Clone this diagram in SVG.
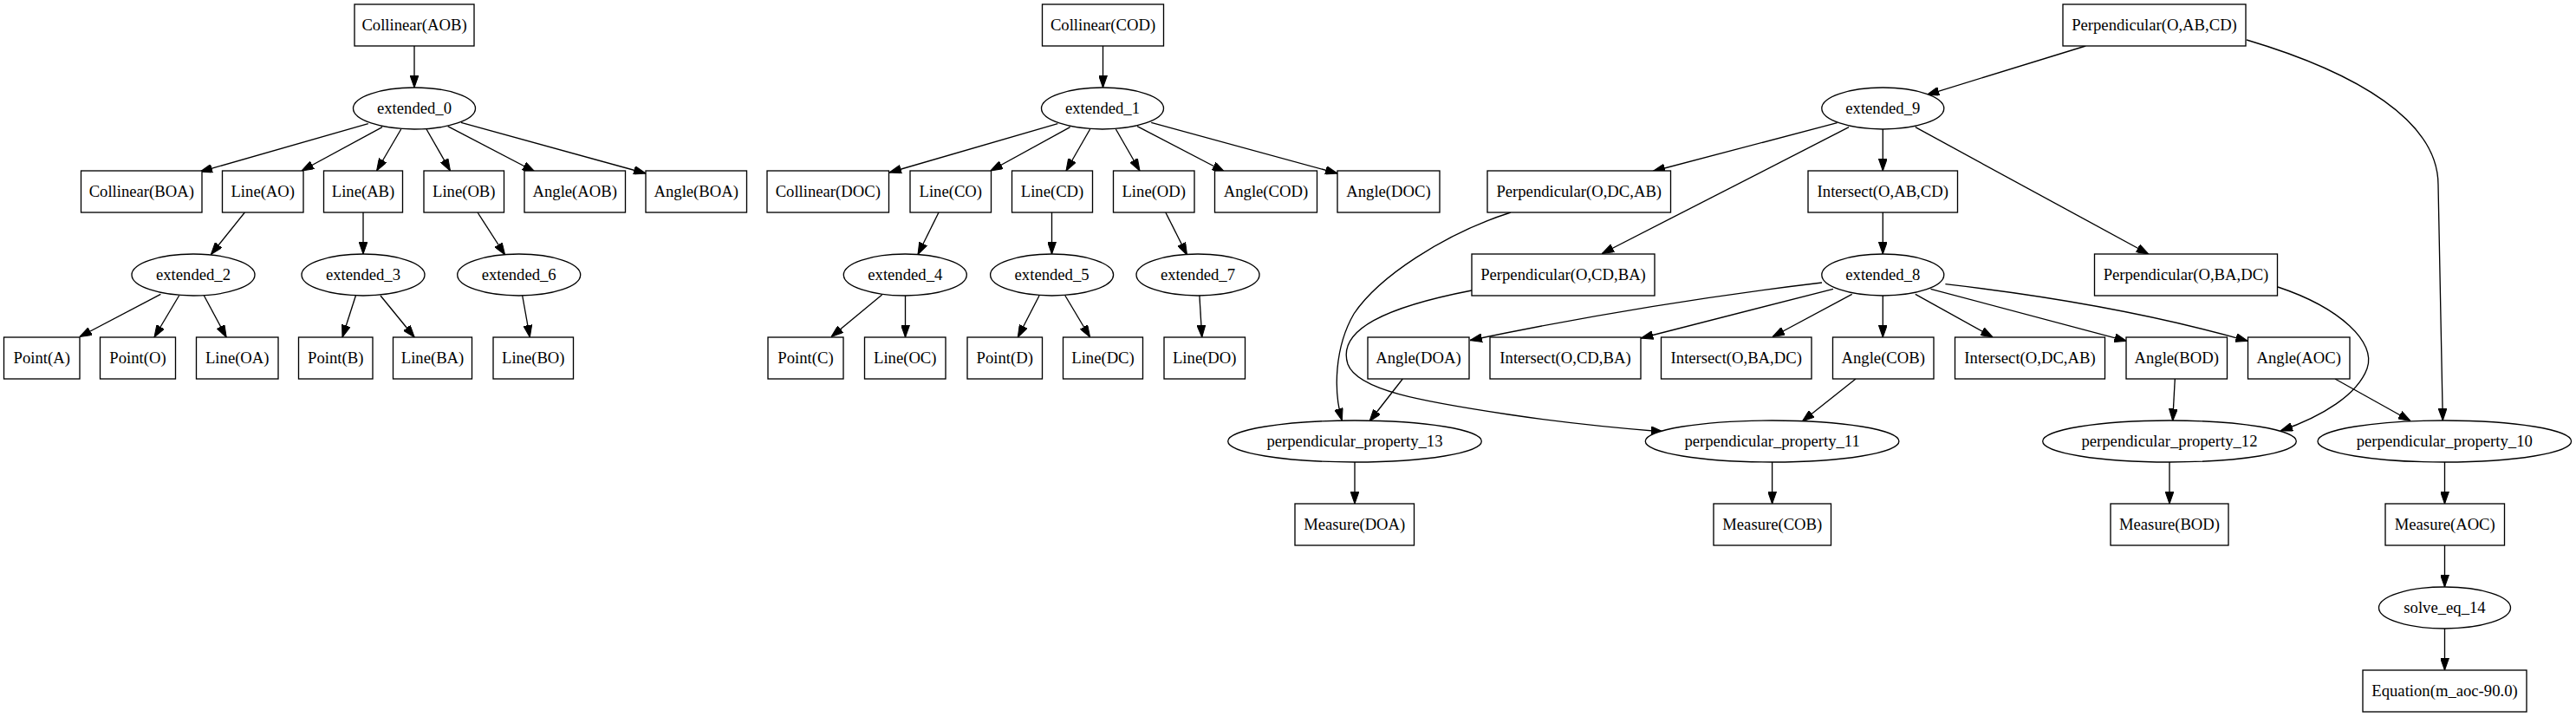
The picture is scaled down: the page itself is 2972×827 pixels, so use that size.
<svg xmlns="http://www.w3.org/2000/svg" width="2972" height="827" viewBox="0 0 2972 827">
<style>
.n rect,.n ellipse{fill:#fff;stroke:#000;stroke-width:1.33}
.n text{font-family:"Liberation Serif","Times New Roman",serif;font-size:18.67px;text-anchor:middle;fill:#000}
#edges path{fill:none;stroke:#000;stroke-width:1.33;marker-end:url(#arr)}
</style>
<defs>
<marker id="arr" markerUnits="userSpaceOnUse" markerWidth="14" markerHeight="10" viewBox="0 0 13.3 9.34" refX="13.3" refY="4.67" orient="auto">
<path d="M0,0 L13.3,4.67 L0,9.34 z" fill="#000" stroke="#000" stroke-width="1"/>
</marker>
</defs>
<rect width="2972" height="827" fill="#fff"/>
<g id="edges">
<path d="M478,53 L478,101"/>
<path d="M424.8,142.7 L231,198"/>
<path d="M441,146.7 L348,197"/>
<path d="M462.7,149 L434.6,197"/>
<path d="M492,149 L519.5,197"/>
<path d="M516.6,145.7 L617,198"/>
<path d="M532,141.3 L745,200"/>
<path d="M282.4,245 L243.4,293.5"/>
<path d="M419,245 L419,293"/>
<path d="M551,245 L582.6,294"/>
<path d="M185.4,339.3 L91.8,388.5"/>
<path d="M206.6,341 L178,389"/>
<path d="M235.4,341 L261.2,389"/>
<path d="M410.4,341 L395,389"/>
<path d="M439,341 L478.2,389"/>
<path d="M602.7,341 L611.3,389"/>
<path d="M1272.5,53 L1272.5,101"/>
<path d="M1220.3,142.7 L1026,199"/>
<path d="M1234.6,146.7 L1142.8,197"/>
<path d="M1257.6,149 L1230,197"/>
<path d="M1287.4,149 L1315,197"/>
<path d="M1312,145.7 L1412.6,198"/>
<path d="M1328.2,141.3 L1543,200"/>
<path d="M1083,245 L1059,293.5"/>
<path d="M1213.5,245 L1213.5,293"/>
<path d="M1344.8,245 L1369.5,294"/>
<path d="M1017.6,340 L959,388.5"/>
<path d="M1044.5,341 L1044.5,389"/>
<path d="M1199,341 L1174.3,389"/>
<path d="M1228.9,341 L1257.6,389"/>
<path d="M1383.9,341 L1386.7,389"/>
<path d="M2406.3,53 L2223.3,109.3"/>
<path d="M2119.6,141.7 L1907.1,197.5"/>
<path d="M2133.1,146.7 L1848.3,292.5"/>
<path d="M2172.3,149 L2172.3,197"/>
<path d="M2209.8,146.7 L2478.8,293"/>
<path d="M2172.3,245 L2172.3,293"/>
<path d="M2102,326 Q1900,350 1696,392.5"/>
<path d="M2115,333.3 L1893.3,390"/>
<path d="M2136.7,339.3 L2045,388.5"/>
<path d="M2172.3,341 L2172.3,389"/>
<path d="M2209.8,339.3 L2299.2,389"/>
<path d="M2227.5,333.3 L2453.5,393.3"/>
<path d="M2244.4,327.7 Q2440,350 2593.3,393.3"/>
<path d="M1618.3,437 L1580,486"/>
<path d="M2141,437 L2079.3,486"/>
<path d="M2509.3,437 L2506.7,485.5"/>
<path d="M2694,437 L2781,485.5"/>
<path d="M2592,46 C2720,84 2813,140 2813,213 L2818.3,485"/>
<path d="M1743,245 C1665,270 1590,320 1562,362 C1540,400 1538,450 1548.3,485"/>
<path d="M1698,335 C1600,354 1542,380 1555,420 C1566,450 1640,463 1740,478 C1800,487 1870,494 1919,498"/>
<path d="M2628,331 C2700,355 2742,395 2731,425 C2720,455 2680,480 2631,497"/>
<path d="M1563,533 L1563,581"/>
<path d="M2044.6,533 L2044.6,581"/>
<path d="M2503,533 L2503,581"/>
<path d="M2820.5,533 L2820.5,581"/>
<path d="M2820.5,629 L2820.5,677"/>
<path d="M2820.5,725 L2820.5,773"/>
</g>
<g id="Collinear_AOB" class="n"><rect x="409" y="5" width="138" height="48"/><text x="478" y="35">Collinear(AOB)</text></g>
<g id="Collinear_COD" class="n"><rect x="1202.5" y="5" width="140" height="48"/><text x="1272.5" y="35">Collinear(COD)</text></g>
<g id="Perpendicular_O_AB_CD" class="n"><rect x="2380" y="5" width="211" height="48"/><text x="2485.5" y="35">Perpendicular(O,AB,CD)</text></g>
<g id="extended_0" class="n"><ellipse cx="478" cy="125" rx="70.5" ry="24"/><text x="478" y="131">extended_0</text></g>
<g id="extended_1" class="n"><ellipse cx="1272" cy="125" rx="70.5" ry="24"/><text x="1272" y="131">extended_1</text></g>
<g id="extended_9" class="n"><ellipse cx="2172.3" cy="125" rx="70.5" ry="24"/><text x="2172.3" y="131">extended_9</text></g>
<g id="Collinear_BOA" class="n"><rect x="93.5" y="197" width="139.5" height="48"/><text x="163.25" y="227">Collinear(BOA)</text></g>
<g id="Line_AO" class="n"><rect x="256.5" y="197" width="93.5" height="48"/><text x="303.25" y="227">Line(AO)</text></g>
<g id="Line_AB" class="n"><rect x="373.5" y="197" width="91" height="48"/><text x="419" y="227">Line(AB)</text></g>
<g id="Line_OB" class="n"><rect x="489" y="197" width="92.5" height="48"/><text x="535.25" y="227">Line(OB)</text></g>
<g id="Angle_AOB" class="n"><rect x="605" y="197" width="116.5" height="48"/><text x="663.25" y="227">Angle(AOB)</text></g>
<g id="Angle_BOA" class="n"><rect x="745" y="197" width="116.5" height="48"/><text x="803.25" y="227">Angle(BOA)</text></g>
<g id="Collinear_DOC" class="n"><rect x="885" y="197" width="140.5" height="48"/><text x="955.25" y="227">Collinear(DOC)</text></g>
<g id="Line_CO" class="n"><rect x="1050" y="197" width="93.5" height="48"/><text x="1096.75" y="227">Line(CO)</text></g>
<g id="Line_CD" class="n"><rect x="1167.5" y="197" width="93" height="48"/><text x="1214" y="227">Line(CD)</text></g>
<g id="Line_OD" class="n"><rect x="1284.5" y="197" width="93.5" height="48"/><text x="1331.25" y="227">Line(OD)</text></g>
<g id="Angle_COD" class="n"><rect x="1401.5" y="197" width="118" height="48"/><text x="1460.5" y="227">Angle(COD)</text></g>
<g id="Angle_DOC" class="n"><rect x="1543" y="197" width="118" height="48"/><text x="1602" y="227">Angle(DOC)</text></g>
<g id="Perpendicular_O_DC_AB" class="n"><rect x="1716" y="197" width="211.5" height="48"/><text x="1821.75" y="227">Perpendicular(O,DC,AB)</text></g>
<g id="Intersect_O_AB_CD" class="n"><rect x="2086" y="197" width="172.5" height="48"/><text x="2172.25" y="227">Intersect(O,AB,CD)</text></g>
<g id="extended_2" class="n"><ellipse cx="223" cy="317" rx="71" ry="24"/><text x="223" y="323">extended_2</text></g>
<g id="extended_3" class="n"><ellipse cx="419" cy="317" rx="71" ry="24"/><text x="419" y="323">extended_3</text></g>
<g id="extended_6" class="n"><ellipse cx="598.7" cy="317" rx="71" ry="24"/><text x="598.7" y="323">extended_6</text></g>
<g id="extended_4" class="n"><ellipse cx="1044.3" cy="317" rx="71" ry="24"/><text x="1044.3" y="323">extended_4</text></g>
<g id="extended_5" class="n"><ellipse cx="1213.6" cy="317" rx="71" ry="24"/><text x="1213.6" y="323">extended_5</text></g>
<g id="extended_7" class="n"><ellipse cx="1382" cy="317" rx="71" ry="24"/><text x="1382" y="323">extended_7</text></g>
<g id="Perpendicular_O_CD_BA" class="n"><rect x="1698" y="293" width="211" height="48"/><text x="1803.5" y="323">Perpendicular(O,CD,BA)</text></g>
<g id="extended_8" class="n"><ellipse cx="2172.3" cy="317" rx="70.5" ry="24"/><text x="2172.3" y="323">extended_8</text></g>
<g id="Perpendicular_O_BA_DC" class="n"><rect x="2416.5" y="293" width="211" height="48"/><text x="2522" y="323">Perpendicular(O,BA,DC)</text></g>
<g id="Point_A" class="n"><rect x="4.5" y="389" width="87.5" height="48"/><text x="48.25" y="419">Point(A)</text></g>
<g id="Point_O" class="n"><rect x="115.5" y="389" width="87" height="48"/><text x="159" y="419">Point(O)</text></g>
<g id="Line_OA" class="n"><rect x="226.5" y="389" width="94.5" height="48"/><text x="273.75" y="419">Line(OA)</text></g>
<g id="Point_B" class="n"><rect x="344.5" y="389" width="85.5" height="48"/><text x="387.25" y="419">Point(B)</text></g>
<g id="Line_BA" class="n"><rect x="453.5" y="389" width="91" height="48"/><text x="499" y="419">Line(BA)</text></g>
<g id="Line_BO" class="n"><rect x="569" y="389" width="92.5" height="48"/><text x="615.25" y="419">Line(BO)</text></g>
<g id="Point_C" class="n"><rect x="886" y="389" width="87" height="48"/><text x="929.5" y="419">Point(C)</text></g>
<g id="Line_OC" class="n"><rect x="997.5" y="389" width="93.5" height="48"/><text x="1044.25" y="419">Line(OC)</text></g>
<g id="Point_D" class="n"><rect x="1116" y="389" width="86.5" height="48"/><text x="1159.25" y="419">Point(D)</text></g>
<g id="Line_DC" class="n"><rect x="1226.5" y="389" width="92" height="48"/><text x="1272.5" y="419">Line(DC)</text></g>
<g id="Line_DO" class="n"><rect x="1343" y="389" width="93.5" height="48"/><text x="1389.75" y="419">Line(DO)</text></g>
<g id="Angle_DOA" class="n"><rect x="1578" y="389" width="117" height="48"/><text x="1636.5" y="419">Angle(DOA)</text></g>
<g id="Intersect_O_CD_BA" class="n"><rect x="1719" y="389" width="174" height="48"/><text x="1806" y="419">Intersect(O,CD,BA)</text></g>
<g id="Intersect_O_BA_DC" class="n"><rect x="1916.5" y="389" width="173.5" height="48"/><text x="2003.25" y="419">Intersect(O,BA,DC)</text></g>
<g id="Angle_COB" class="n"><rect x="2114.5" y="389" width="116.5" height="48"/><text x="2172.75" y="419">Angle(COB)</text></g>
<g id="Intersect_O_DC_AB" class="n"><rect x="2255.5" y="389" width="173" height="48"/><text x="2342" y="419">Intersect(O,DC,AB)</text></g>
<g id="Angle_BOD" class="n"><rect x="2453" y="389" width="116.5" height="48"/><text x="2511.25" y="419">Angle(BOD)</text></g>
<g id="Angle_AOC" class="n"><rect x="2593.5" y="389" width="117.5" height="48"/><text x="2652.25" y="419">Angle(AOC)</text></g>
<g id="perpendicular_property_13" class="n"><ellipse cx="1563" cy="509" rx="146.3" ry="24"/><text x="1563" y="515">perpendicular_property_13</text></g>
<g id="perpendicular_property_11" class="n"><ellipse cx="2044.6" cy="509" rx="146.3" ry="24"/><text x="2044.6" y="515">perpendicular_property_11</text></g>
<g id="perpendicular_property_12" class="n"><ellipse cx="2503" cy="509" rx="146.3" ry="24"/><text x="2503" y="515">perpendicular_property_12</text></g>
<g id="perpendicular_property_10" class="n"><ellipse cx="2820.3" cy="509" rx="146.3" ry="24"/><text x="2820.3" y="515">perpendicular_property_10</text></g>
<g id="Measure_DOA" class="n"><rect x="1494" y="581" width="137.5" height="48"/><text x="1562.75" y="611">Measure(DOA)</text></g>
<g id="Measure_COB" class="n"><rect x="1977" y="581" width="135.5" height="48"/><text x="2044.75" y="611">Measure(COB)</text></g>
<g id="Measure_BOD" class="n"><rect x="2435" y="581" width="136" height="48"/><text x="2503" y="611">Measure(BOD)</text></g>
<g id="Measure_AOC" class="n"><rect x="2752" y="581" width="137.5" height="48"/><text x="2820.75" y="611">Measure(AOC)</text></g>
<g id="solve_eq_14" class="n"><ellipse cx="2820.5" cy="701" rx="76" ry="24"/><text x="2820.5" y="707">solve_eq_14</text></g>
<g id="Equation_m_aoc_90" class="n"><rect x="2726" y="773" width="189" height="48"/><text x="2820.5" y="803">Equation(m_aoc-90.0)</text></g>
</svg>
